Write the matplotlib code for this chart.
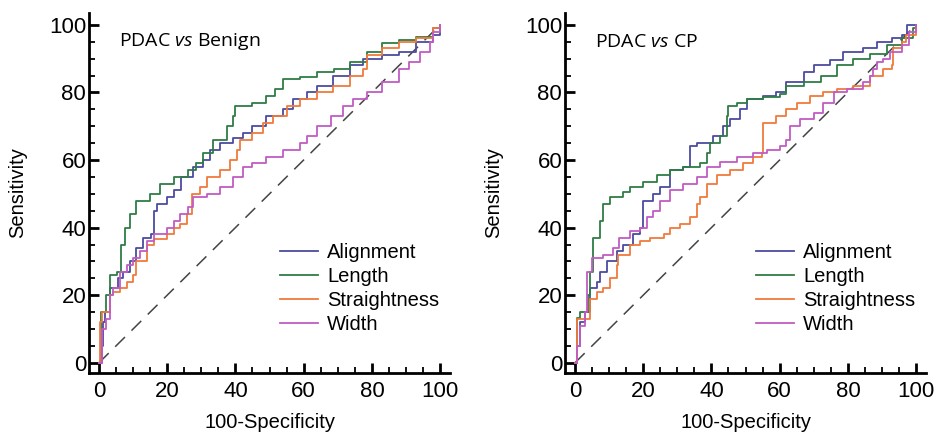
import matplotlib.pyplot as plt
from matplotlib.ticker import MultipleLocator

# ==========================
# DATA (100-Specificity vs Sensitivity)
# ==========================
NAMES = ["Alignment", "Length", "Straightness", "Width"]
COLORS = ["#4b4ba0", "#2e7d45", "#f07a3c", "#c25cc4"]

# --- PDAC vs Benign ---
ben_align_x = [0, 0.8, 1.2, 1.8, 3.2, 4.7, 5.7, 7.1, 9, 11, 13, 15.4, 16, 17, 20, 22, 24.2, 27.7, 30.6, 32.5,
               35.5, 39.4, 42.3, 45, 49, 54, 57, 61, 64, 68.7, 73.6, 77.5, 83, 88, 93, 98, 100]
ben_align_y = [0, 5, 12, 15, 22, 22, 25, 27, 30, 34, 37, 38, 45, 47, 49, 51, 55, 58, 60, 63,
               65, 66.5, 68, 70, 73, 75, 78, 80, 82, 85, 88, 90, 91, 92, 95, 97, 100]

ben_len_x = [0, 0.5, 2.2, 3.2, 5.2, 6.6, 7.6, 9, 11, 15, 18, 22, 26, 28.6, 30.6, 33.5, 37.4, 39.4, 40,
             45, 49, 51.6, 54, 59, 64, 69, 73.6, 78.5, 83, 88, 93, 98, 100]
ben_len_y = [0, 15, 20, 26, 27, 35, 40, 44, 48, 50, 53, 55, 57, 59, 62, 66, 70, 73, 76,
             77, 79, 81, 84, 84.5, 86, 87, 89, 92, 94.5, 95.5, 96.5, 99, 100]

ben_str_x = [0, 0.2, 1, 3.2, 4.2, 6.2, 8.1, 10, 11, 14, 16, 20, 22, 23.7, 25.7, 27.2, 29.6, 31.6, 35.5,
             38.4, 40.4, 41.3, 45, 48, 51, 55, 59, 64, 68.7, 73.6, 77.5, 78.5, 83, 88, 93, 98, 100]
ben_str_y = [0, 12, 15, 20, 21, 22, 24, 26, 30, 35, 36.5, 38, 40, 41, 44, 50, 52, 55, 57,
             60, 63, 66, 68, 71, 73, 76, 78, 80, 82, 85, 87, 91, 93, 95, 96, 99, 100]

ben_wid_x = [0, 1, 2.2, 3.2, 4.2, 6.2, 8.1, 10, 12, 14, 16, 20, 22, 23.7, 26.2, 27.7, 31.6, 35.5, 39.4,
             42.3, 45, 49, 54, 59, 61, 64, 68, 71.6, 74.6, 78.5, 83, 88, 91, 94, 97, 98, 100]
ben_wid_y = [0, 10, 13, 20, 22, 27, 29, 31, 33, 36, 38, 40, 42, 44, 46, 49, 50, 52, 55,
             58, 59, 61, 63, 65, 67, 70, 73, 76, 78, 80, 83, 87, 89, 92, 95, 98, 100]

# --- PDAC vs CP ---
cp_align_x = [0, 0.5, 1.5, 2.9, 4.4, 6.4, 7.3, 9.3, 12.2, 14.2, 17, 19, 20, 23, 25, 27.9, 31.8, 33.7,
              35.7, 39, 40.6, 43.5, 45.5, 48.4, 50.3, 55, 59, 62, 67, 70, 74.8, 78.7, 84.5, 88.5,
              93, 96, 97.3, 100]
cp_align_y = [0, 5, 12, 15, 22, 24, 27, 30, 33, 35, 38, 40, 48, 50, 52, 57, 58, 64,
              65, 65, 67, 70, 72, 75, 78, 79, 80, 83, 86, 88, 89.5, 92, 93, 95,
              96, 97, 100, 100]

cp_len_x = [0, 0.5, 1.5, 3.9, 4.4, 5.4, 7.3, 8.3, 10.3, 14.2, 16, 20, 24, 27.9, 31.8, 36.7, 38.6,
            39.6, 42.5, 44.5, 45, 47.4, 50.3, 55, 60, 62, 67, 72, 76.7, 81.6, 86.5, 91.4, 96, 99, 100]
cp_len_y = [0, 13.3, 15, 20, 27, 37, 42, 47, 49, 50.5, 52, 53.5, 55.5, 57, 58, 59, 62,
            65, 67, 73, 76, 77, 78, 78.5, 79.5, 82, 83, 85, 88, 90, 91.5, 94, 96, 99, 100]

cp_str_x = [0, 0.5, 2.9, 4.4, 6.4, 8.3, 10.3, 12.2, 12.7, 16, 19, 22, 26, 27.9, 30.8, 33.7, 35.7,
            36.7, 38.6, 41.5, 45.5, 49.4, 52.3, 54.7, 55.2, 59, 62, 65, 69, 72.8, 76.7, 81.6,
            86.5, 90.4, 92.9, 93.2, 96, 97, 100]
cp_str_y = [0, 13, 13, 19, 21, 22, 25, 29, 32, 35, 36, 37, 38, 40, 41, 43, 47,
            49, 53, 55.5, 57, 59, 61, 62, 71, 73, 75, 77, 79, 80, 81, 82,
            85, 87, 88, 93, 95, 97, 99]

cp_wid_x = [0, 0.5, 1.5, 2.9, 3.4, 4.9, 8.3, 11.2, 13, 16, 19, 21, 23, 25, 27.9, 31.8, 35.7, 38.6,
            42.5, 47.4, 52.3, 56.2, 60, 62, 63, 66, 70, 72.8, 75.8, 79.7, 84.5, 86.5, 87.5, 88.5,
            90.4, 92.4, 96, 98, 100]
cp_wid_y = [0, 5, 11, 15, 27, 31, 32, 34, 37, 39, 40, 43, 45, 48, 51, 53, 55, 58,
            59.5, 61, 62, 63, 64, 66, 70, 72, 74, 77, 80, 81, 83, 85, 87, 89,
            90, 92, 94, 98, 100]

DIAG = [0, 100]

panels = [
    ("PDAC", "Benign", [(ben_align_x, ben_align_y), (ben_len_x, ben_len_y),
                        (ben_str_x, ben_str_y), (ben_wid_x, ben_wid_y)]),
    ("PDAC", "CP", [(cp_align_x, cp_align_y), (cp_len_x, cp_len_y),
                    (cp_str_x, cp_str_y), (cp_wid_x, cp_wid_y)]),
]

plt.rcParams["font.family"] = ["Liberation Sans", "DejaVu Sans"]
plt.rcParams["mathtext.fontset"] = "custom"
plt.rcParams["mathtext.it"] = "Open Sans:italic"
plt.rcParams["mathtext.rm"] = "Open Sans"

fig = plt.figure(figsize=(9.35, 4.34), dpi=100)
positions = [[0.0952, 0.1406, 0.3861, 0.8295], [0.6043, 0.1406, 0.3861, 0.8295]]

for pos, (a, b, curves) in zip(positions, panels):
    ax = fig.add_axes(pos)
    ax.plot(DIAG, DIAG, color="#444444", lw=1.1, dashes=(9, 6))
    for (xs, ys), name, col in zip(curves, NAMES, COLORS):
        ax.plot(xs, ys, drawstyle="steps-post", color=col, lw=1.3, label=name)

    ax.set_xlim(-2.9, 102.9)
    ax.set_ylim(-3.0, 103.5)
    for s in ["top", "right"]:
        ax.spines[s].set_visible(False)
    for s in ["left", "bottom"]:
        ax.spines[s].set_linewidth(2.0)
    ax.xaxis.set_major_locator(MultipleLocator(20))
    ax.xaxis.set_minor_locator(MultipleLocator(5))
    ax.yaxis.set_major_locator(MultipleLocator(20))
    ax.yaxis.set_minor_locator(MultipleLocator(5))
    ax.tick_params(which="major", direction="in", length=7, width=2.0, labelsize=16)
    ax.tick_params(which="minor", direction="in", length=4, width=1.3)
    ax.tick_params(axis="y", which="major", pad=2)
    ax.tick_params(axis="x", which="major", pad=6)

    ax.set_xlabel("100-Specificity", fontsize=14.5)
    ax.set_ylabel("Sensitivity", fontsize=14.5)
    ax.xaxis.set_label_coords(0.5, -0.111)
    ax.yaxis.set_label_coords(-0.172, 0.5)

    ax.text(6.0, 95, f"{a} $\\mathit{{vs}}$ {b}", fontsize=14, family="Open Sans",
            va="center", ha="left")

    ax.legend(loc="lower right", bbox_to_anchor=(1.02, 0.058), frameon=False,
              fontsize=14.5, handlelength=1.9, handletextpad=0.45, labelspacing=0.25)

fig.savefig("out.png", dpi=100)
